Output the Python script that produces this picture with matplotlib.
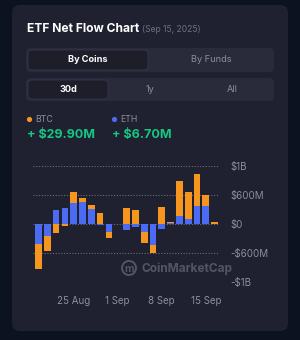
import numpy as np
import matplotlib
matplotlib.use("Agg")
from matplotlib import pyplot as plt
from matplotlib.patches import FancyBboxPatch, Circle

plt.rcParams['font.family'] = ['Inter', 'DejaVu Sans']

# daily net flow, millions USD (trading days, Sep 1 holiday left empty)
dates = ['19 Aug', '20 Aug', '21 Aug', '22 Aug', '25 Aug', '26 Aug', '27 Aug', '28 Aug', '29 Aug',
         '1 Sep', '2 Sep', '3 Sep', '4 Sep', '5 Sep', '8 Sep', '9 Sep', '10 Sep', '11 Sep', '12 Sep',
         '15 Sep', '16 Sep']
btc = [-517, -310, -193, -35, 228, 97, 97, 220, -124,
       0, 324, 297, -228, -166, 345, 25, 724, 552, 655,
       241, 29.9]
eth = [-414, -240, 290, 338, 442, 448, 304, -20, -160,
       0, -124, -55, -172, -434, -103, 20, 172, 103, 379,
       366, 6.7]
tick_dates = ['25 Aug', '1 Sep', '8 Sep', '15 Sep']
y_ticks = [-1200, -600, 0, 600, 1200]
y_labels = ['-$1B', '-$600M', '$0', '$600M', '$1B']

BG = '#0d1220'
CARD = '#202130'
PANEL = '#2a2b3a'
SEL = '#1d1e2a'
ORANGE = '#f7961f'
BLUE = '#4b6cf2'
GREEN = '#16c784'
GRAY = '#8b8e9c'
MARK = '#525565'

W, H = 300, 340
fig = plt.figure(figsize=(W / 100, H / 100), dpi=100, facecolor=BG)

# full-figure overlay in pixel coords for the card UI
ui = fig.add_axes([0, 0, 1, 1])
ui.set_xlim(0, W)
ui.set_ylim(H, 0)
ui.axis('off')


def box(x0, y0, x1, y1, color, r, edge='none'):
    ui.add_patch(FancyBboxPatch((x0 + r, y0 + r), x1 - x0 - 2 * r, y1 - y0 - 2 * r,
                                boxstyle=f'round,pad={r}', fc=color, ec=edge, lw=0.6))


box(12, 5, 288, 331, CARD, 8)
title = ui.text(27, 29, 'ETF Net Flow Chart', color='white', fontsize=8.7, fontweight='bold', va='center')
# put the date right after the title
fig.canvas.draw()
tx1 = title.get_window_extent().x1
ui.text(tx1 + 3, 29.5, '(Sep 15, 2025)', color='#6c6f7e', fontsize=6.2, va='center')

box(26, 48, 274, 72, PANEL, 5)
box(28, 50, 148, 70, SEL, 4, edge='#34364a')
ui.text(88, 60, 'By Coins', color='white', fontsize=6.6, fontweight='bold', ha='center', va='center')
ui.text(211, 60, 'By Funds', color=GRAY, fontsize=6.6, ha='center', va='center')

box(26, 78, 274, 101, PANEL, 5)
box(28, 80, 108, 99, SEL, 4, edge='#34364a')
ui.text(68, 89.5, '30d', color='white', fontsize=6.6, fontweight='bold', ha='center', va='center')
ui.text(150, 89.5, '1y', color=GRAY, fontsize=6.6, ha='center', va='center')
ui.text(232, 89.5, 'All', color=GRAY, fontsize=6.6, ha='center', va='center')

ui.add_patch(Circle((29.5, 119.5), 2.6, fc=ORANGE, ec='none'))
ui.text(35, 119.5, 'BTC', color=GRAY, fontsize=6.3, va='center')
ui.add_patch(Circle((114.5, 119.5), 2.6, fc=BLUE, ec='none'))
ui.text(120, 119.5, 'ETH', color=GRAY, fontsize=6.3, va='center')
ui.text(27, 135, '+ ${:.2f}M'.format(btc[-1]), color=GREEN, fontsize=9, fontweight='bold', va='center')
ui.text(112, 135, '+ ${:.2f}M'.format(eth[-1]), color=GREEN, fontsize=9, fontweight='bold', va='center')

# watermark
ui.add_patch(Circle((129, 268), 7, fc='none', ec=MARK, lw=1.4))
ui.text(129, 268.5, 'm', color=MARK, fontsize=7.5, fontweight='bold', ha='center', va='center')
ui.text(142, 268.5, 'CoinMarketCap', color=MARK, fontsize=8.6, fontweight='bold', va='center')

# chart
ax = fig.add_axes([33 / W, 1 - 282 / H, (218 - 33) / W, (282 - 166) / H])
ax.set_facecolor('none')
x = np.arange(len(dates))
btc = np.array(btc, dtype=float)
eth = np.array(eth, dtype=float)
pos_base = np.zeros(len(x))
neg_base = np.zeros(len(x))
for vals, color in [(eth, BLUE), (btc, ORANGE)]:
    bottom = np.where(vals >= 0, pos_base, neg_base)
    ax.bar(x, vals, 0.76, bottom=bottom, color=color, linewidth=0, zorder=3)
    pos_base += np.clip(vals, 0, None)
    neg_base += np.clip(vals, None, 0)

ax.set_xlim(-0.62, 20.38)
ax.set_ylim(-1200, 1200)
ax.set_yticks(y_ticks)
ax.set_yticklabels(y_labels)
ax.set_xticks([dates.index(d) for d in tick_dates])
ax.set_xticklabels(tick_dates)
ax.yaxis.tick_right()
ax.tick_params(axis='y', length=0, pad=9, labelsize=7, labelcolor=GRAY)
ax.tick_params(axis='x', length=0, pad=10, labelsize=7, labelcolor=GRAY)
ax.grid(axis='y', color='#6a6d7b', linestyle=(0, (1, 1.5)), linewidth=0.8, zorder=0)
for s in ax.spines.values():
    s.set_visible(False)

fig.savefig('out.png', dpi=100, facecolor=BG)
